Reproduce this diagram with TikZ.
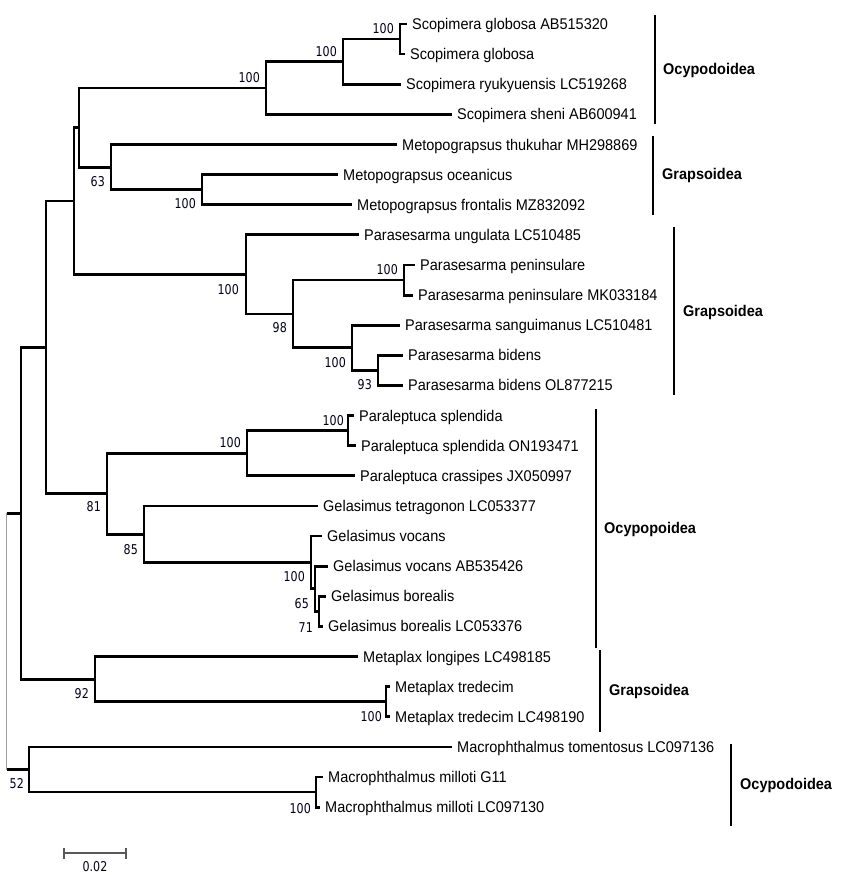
\documentclass[tikz,border=0pt]{standalone}
\usepackage{fontspec}
\setmainfont{Liberation Sans}
\newfontfamily\taxonfont[FakeStretch=0.935]{Liberation Sans}
\newfontfamily\bsfont[FakeStretch=0.82]{DejaVu Sans}
\usepackage{tikz}
\usetikzlibrary{positioning}
\usetikzlibrary{arrows.meta}

\begin{document}
\begin{tikzpicture}[x=1pt,y=-1pt,
	branch/.style={line width=2.8pt, black},
	rootline/.style={draw=gray!75, double=white, double distance=0.9pt, line width=0.8pt},
	leaf/.style={anchor=west, inner xsep=5pt, inner ysep=0pt, text height=11.1pt, text depth=0pt, font=\taxonfont\fontsize{15.5}{18}\selectfont},
	boot/.style={inner sep=0pt, text=black!90!blue, font=\bsfont\fontsize{13.5}{15}\selectfont},
	clade/.style={line width=2.8pt},
	cladename/.style={anchor=west, inner sep=0pt, text height=11.1pt, text depth=0pt, font=\taxonfont\bfseries\fontsize{15.5}{18}\selectfont}]
	
	\useasboundingbox (0,0) rectangle (848,875);
	
	% taxa
	\node (l0) at (407,24)[leaf] {Scopimera globosa AB515320};
	\node (l1) at (405,54.1)[leaf] {Scopimera globosa};
	\node (l2) at (401,84.2)[leaf] {Scopimera ryukyuensis LC519268};
	\node (l3) at (452,114.4)[leaf] {Scopimera sheni AB600941};
	\node (l4) at (397,144.5)[leaf] {Metopograpsus thukuhar MH298869};
	\node (l5) at (338,174.6)[leaf] {Metopograpsus oceanicus};
	\node (l6) at (352,204.7)[leaf] {Metopograpsus frontalis MZ832092};
	\node (l7) at (359,234.8)[leaf] {Parasesarma ungulata LC510485};
	\node (l8) at (415,265)[leaf] {Parasesarma peninsulare};
	\node (l9) at (413,295.1)[leaf] {Parasesarma peninsulare MK033184};
	\node (l10) at (400,325.2)[leaf] {Parasesarma sanguimanus LC510481};
	\node (l11) at (403,355.3)[leaf] {Parasesarma bidens};
	\node (l12) at (403,385.4)[leaf] {Parasesarma bidens OL877215};
	\node (l13) at (354,415.6)[leaf] {Paraleptuca splendida};
	\node (l14) at (356,445.7)[leaf] {Paraleptuca splendida ON193471};
	\node (l15) at (355,475.8)[leaf] {Paraleptuca crassipes JX050997};
	\node (l16) at (318,505.9)[leaf] {Gelasimus tetragonon LC053377};
	\node (l17) at (322,536)[leaf] {Gelasimus vocans};
	\node (l18) at (328,566.2)[leaf] {Gelasimus vocans AB535426};
	\node (l19) at (326,596.3)[leaf] {Gelasimus borealis};
	\node (l20) at (323,626.4)[leaf] {Gelasimus borealis LC053376};
	\node (l21) at (358,656.5)[leaf] {Metaplax longipes LC498185};
	\node (l22) at (390,686.6)[leaf] {Metaplax tredecim};
	\node (l23) at (390,716.8)[leaf] {Metaplax tredecim LC498190};
	\node (l24) at (452,746.9)[leaf] {Macrophthalmus tomentosus LC097136};
	\node (l25) at (323,777)[leaf] {Macrophthalmus milloti G11};
	\node (l26) at (320,807.1)[leaf] {Macrophthalmus milloti LC097130};
	
	% internal nodes
	\coordinate (A) at (400,39.05);
	\coordinate (B) at (343,61.6);
	\coordinate (C) at (266,88);
	\coordinate (D) at (202,189.65);
	\coordinate (E) at (111,167.1);
	\coordinate (F) at (79,127.5);
	\coordinate (G) at (404,280);
	\coordinate (H) at (378,370.4);
	\coordinate (I) at (352,347.8);
	\coordinate (J) at (293,313.9);
	\coordinate (K) at (246,274.4);
	\coordinate (L) at (74,201);
	\coordinate (M) at (348,430.6);
	\coordinate (N) at (247,453.2);
	\coordinate (O) at (319,611.4);
	\coordinate (P) at (315,588.8);
	\coordinate (Q) at (311,562.4);
	\coordinate (R) at (144,534.2);
	\coordinate (S) at (107,493.7);
	\coordinate (T) at (46,347.4);
	\coordinate (U) at (386,701.7);
	\coordinate (V) at (95,679.1);
	\coordinate (W) at (21,513.2);
	\coordinate (X) at (316,792);
	\coordinate (Y) at (29,769.5);
	\coordinate (Z) at (7,641.4);
	
	% branches
	\draw[branch] (A) |- (l0.west);
	\draw[branch] (A) |- (l1.west);
	\draw[branch] (B) |- (A);
	\draw[branch] (B) |- (l2.west);
	\draw[branch] (C) |- (B);
	\draw[branch] (C) |- (l3.west);
	\draw[branch] (D) |- (l5.west);
	\draw[branch] (D) |- (l6.west);
	\draw[branch] (E) |- (l4.west);
	\draw[branch] (E) |- (D);
	\draw[branch] (F) |- (C);
	\draw[branch] (F) |- (E);
	
	\draw[branch] (G) |- (l8.west);
	\draw[branch] (G) |- (l9.west);
	\draw[branch] (H) |- (l11.west);
	\draw[branch] (H) |- (l12.west);
	\draw[branch] (I) |- (l10.west);
	\draw[branch] (I) |- (H);
	\draw[branch] (J) |- (G);
	\draw[branch] (J) |- (I);
	\draw[branch] (K) |- (l7.west);
	\draw[branch] (K) |- (J);
	\draw[branch] (L) |- (F);
	\draw[branch] (L) |- (K);
	
	\draw[branch] (M) |- (l13.west);
	\draw[branch] (M) |- (l14.west);
	\draw[branch] (N) |- (M);
	\draw[branch] (N) |- (l15.west);
	\draw[branch] (O) |- (l19.west);
	\draw[branch] (O) |- (l20.west);
	\draw[branch] (P) |- (l18.west);
	\draw[branch] (P) |- (O);
	\draw[branch] (Q) |- (l17.west);
	\draw[branch] (Q) |- (P);
	\draw[branch] (R) |- (l16.west);
	\draw[branch] (R) |- (Q);
	\draw[branch] (S) |- (N);
	\draw[branch] (S) |- (R);
	\draw[branch] (T) |- (L);
	\draw[branch] (T) |- (S);
	
	\draw[branch] (U) |- (l22.west);
	\draw[branch] (U) |- (l23.west);
	\draw[branch] (V) |- (l21.west);
	\draw[branch] (V) |- (U);
	\draw[branch] (W) |- (T);
	\draw[branch] (W) |- (V);
	\draw[branch] (X) |- (l25.west);
	\draw[branch] (X) |- (l26.west);
	\draw[branch] (Y) |- (l24.west);
	\draw[branch] (Y) |- (X);
	
	% root
	\draw[rootline] (Z |- W) -- (Z |- Y);
	\draw[branch] (Z |- W) -- (W);
	\draw[branch] (Z |- Y) -- (Y);
	
	% bootstrap values
	\node (bA) [boot, above left=5pt and 6pt of A] {100};
	\node (bB) [boot, above left=5pt and 6pt of B] {100};
	\node (bC) [boot, above left=5pt and 6pt of C] {100};
	\node (bD) [boot, below left=9pt and 6pt of D] {100};
	\node (bE) [boot, below left=9pt and 6pt of E] {63};
	\node (bG) [boot, above left=5pt and 6pt of G] {100};
	\node (bH) [boot, below left=9pt and 6pt of H] {93};
	\node (bI) [boot, below left=9pt and 6pt of I] {100};
	\node (bJ) [boot, below left=8pt and 6pt of J] {98};
	\node (bK) [boot, below left=10pt and 7pt of K] {100};
	\node (bM) [boot, above left=5pt and 4pt of M] {100};
	\node (bN) [boot, above left=5pt and 6pt of N] {100};
	\node (bO) [boot, below left=11pt and 6pt of O] {71};
	\node (bP) [boot, below left=9pt and 6pt of P] {65};
	\node (bQ) [boot, below left=9pt and 6pt of Q] {100};
	\node (bR) [boot, below left=10pt and 6pt of R] {85};
	\node (bS) [boot, below left=8pt and 6pt of S] {81};
	\node (bU) [boot, below left=10pt and 4pt of U] {100};
	\node (bV) [boot, below left=9pt and 6pt of V] {92};
	\node (bX) [boot, below left=11pt and 5pt of X] {100};
	\node (bY) [boot, below left=9pt and 5pt of Y] {52};
	
	% superfamilies
	\draw[clade] (655,15) -- (655,124);
	\node (g1) at (663,69)[cladename] {Ocypodoidea};
	\draw[clade] (653,136) -- (653,215);
	\node (g2) at (662,174)[cladename] {Grapsoidea};
	\draw[clade] (674,227) -- (674,395);
	\node (g3) at (683,311)[cladename] {Grapsoidea};
	\draw[clade] (596,409) -- (596,648);
	\node (g4) at (604,528)[cladename] {Ocypopoidea};
	\draw[clade] (600,650) -- (600,732);
	\node (g5) at (609,690)[cladename] {Grapsoidea};
	\draw[clade] (731,744) -- (731,826);
	\node (g6) at (740,784)[cladename] {Ocypodoidea};
	
	% scale bar
	\coordinate (s0) at (63,853);
	\coordinate (s1) at (127,853);
	\draw[line width=2.2pt, black!65, {Bar[width=11pt]}-{Bar[width=11pt]}] (s0) -- (s1);
	\node (sl) at (95,867)[boot] {0.02};
\end{tikzpicture}
\end{document}
